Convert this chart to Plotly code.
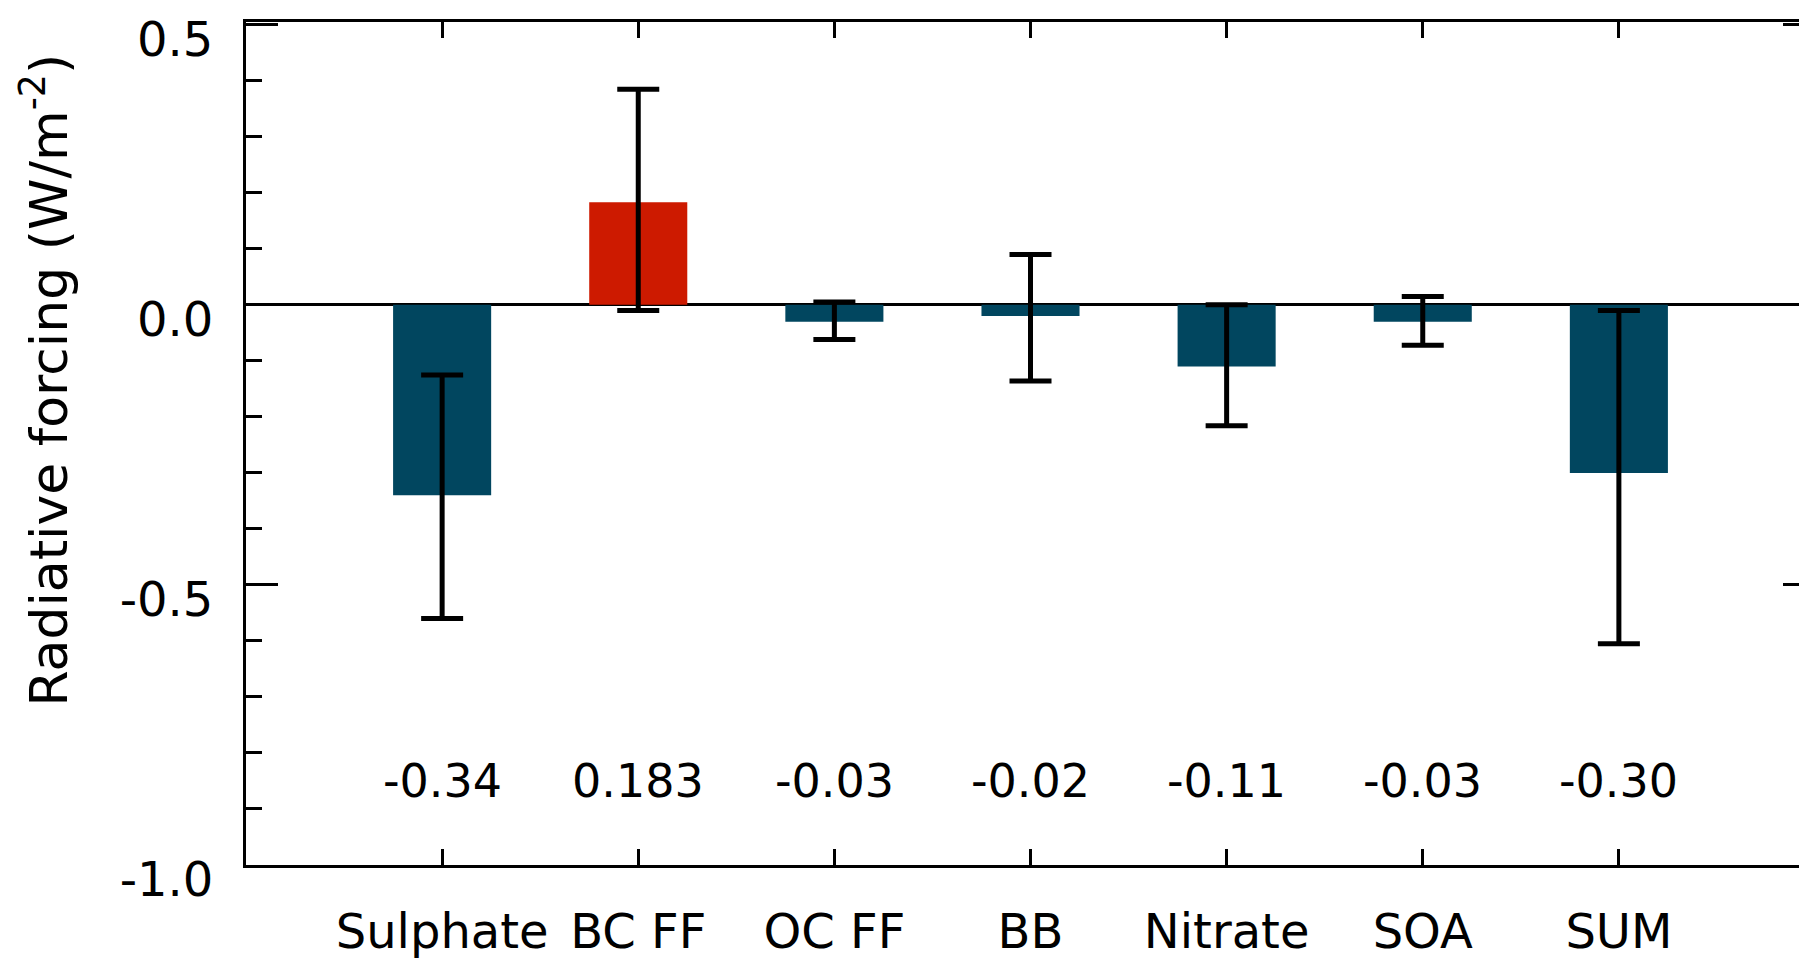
import plotly.graph_objects as go

# Aerosol radiative forcing by component
categories = ['Sulphate', 'BC FF', 'OC FF', 'BB', 'Nitrate', 'SOA', 'SUM']
forcing = [-0.34, 0.183, -0.03, -0.02, -0.11, -0.03, -0.30]
err_high = [-0.125, 0.385, 0.005, 0.09, 0.0, 0.015, -0.01]
err_low = [-0.56, -0.01, -0.062, -0.136, -0.216, -0.072, -0.605]
value_labels = ['-0.34', '0.183', '-0.03', '-0.02', '-0.11', '-0.03', '-0.30']
bar_colors = ['#01465f', '#cd1a00', '#01465f', '#01465f', '#01465f', '#01465f', '#01465f']

ytick_vals = [0.5, 0.0, -0.5, -1.0]
ytick_text = ['0.5', '0.0', '-0.5', '-1.0']

FONT = 'DejaVu Sans, Liberation Sans, sans-serif'
xpos = list(range(1, len(categories) + 1))

fig = go.Figure()
fig.add_trace(go.Bar(
    x=xpos,
    y=forcing,
    width=0.5,
    marker=dict(color=bar_colors, line=dict(width=0)),
    error_y=dict(
        type='data',
        symmetric=False,
        array=[h - v for h, v in zip(err_high, forcing)],
        arrayminus=[v - l for l, v in zip(err_low, forcing)],
        color='black',
        thickness=5,
        width=21,
    ),
    showlegend=False,
))

for x, lab in zip(xpos, value_labels):
    fig.add_annotation(x=x, y=-0.85, text=lab, showarrow=False,
                       font=dict(size=46, color='black', family=FONT))

# axis title placed as rotated text (sits a little above centre in the original)
fig.add_annotation(
    text='Radiative forcing (W/m<sup>-2</sup>)',
    xref='paper', yref='paper', x=-0.128, y=0.575,
    xanchor='center', yanchor='middle', textangle=-90, showarrow=False,
    font=dict(size=52, color='black', family=FONT),
)

fig.update_layout(
    width=1807,
    height=962,
    margin=dict(l=238, r=0, t=14, b=105),
    plot_bgcolor='white',
    paper_bgcolor='white',
    font=dict(family=FONT, size=48, color='black'),
    xaxis=dict(
        range=[0, 8.0],
        tickvals=xpos,
        ticktext=categories,
        ticks='inside',
        ticklen=16,
        tickwidth=3,
        tickcolor='black',
        showline=True,
        linewidth=3,
        linecolor='black',
        mirror='ticks',
        showgrid=False,
        zeroline=False,
        ticklabelstandoff=22,
        tickfont=dict(size=48),
        automargin=False,
    ),
    yaxis=dict(
        range=[-1.0, 0.505],
        tickvals=ytick_vals,
        ticktext=ytick_text,
        ticks='inside',
        ticklen=32,
        tickwidth=3,
        tickcolor='black',
        minor=dict(dtick=0.1, ticks='inside', ticklen=16, tickwidth=3, tickcolor='black'),
        showline=True,
        linewidth=3,
        linecolor='black',
        mirror='ticks',
        showgrid=False,
        zeroline=True,
        zerolinecolor='black',
        zerolinewidth=3,
        ticklabelstandoff=20,
        ticklabelshift=14,
        ticklabeloverflow='allow',
        automargin=False,
        tickfont=dict(size=48),
    ),
)

fig.write_html("out.html")
